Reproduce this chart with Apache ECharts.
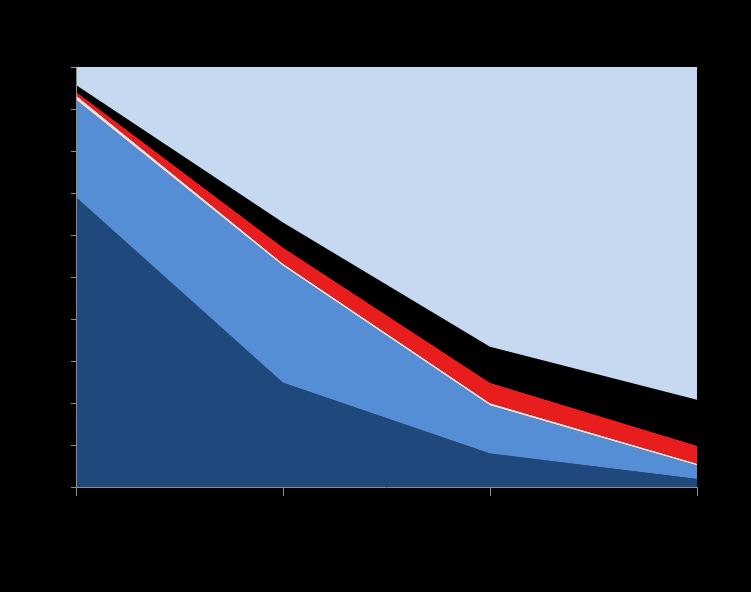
<!DOCTYPE html>
<html>
<head>
<meta charset="utf-8">
<script src="https://cdn.jsdelivr.net/npm/echarts@6/dist/echarts.min.js"></script>
<style>html,body{margin:0;padding:0;background:#000;}#c{width:751px;height:592px;}</style>
</head>
<body>
<div id="c"></div>
<script>
const categories = ['2015', '2020', '2025', '2030'];
const yTicks = [0, 10, 20, 30, 40, 50, 60, 70, 80, 90, 100];
const seriesNames = ['A', 'B', 'C', 'D', 'E', 'F'];
const seriesA = [69.0, 24.8, 8.0, 1.9];
const seriesB = [23.2, 27.8, 11.4, 3.2];
const seriesC = [1.1, 0.6, 0.6, 0.5];
const seriesD = [0.8, 3.8, 4.8, 4.2];
const seriesE = [1.6, 6.0, 8.6, 11.0];
const seriesF = [4.3, 37.0, 66.6, 79.2];
const colors = ['#1f497d', '#558ed5', '#f2dcdb', '#e81e1e', '#000000', '#c6d9f1'];
const values = [seriesA, seriesB, seriesC, seriesD, seriesE, seriesF];

const chart = echarts.init(document.getElementById('c'));
chart.setOption({
  backgroundColor: '#000',
  animation: false,
  grid: { left: 76, right: 54, top: 67, bottom: 105 },
  xAxis: {
    type: 'category', data: categories, boundaryGap: false,
    axisLine: { lineStyle: { color: '#8c8c8c', width: 1 } },
    axisTick: { show: true, length: 9, lineStyle: { color: '#8c8c8c' } },
    axisLabel: { color: '#000', fontFamily: 'Liberation Sans', fontSize: 12 },
    splitLine: { show: false }, z: 10
  },
  yAxis: {
    type: 'value', min: 0, max: 100, interval: 10,
    axisLine: { show: true, lineStyle: { color: '#8c8c8c', width: 1 } },
    axisTick: { show: true, length: 5, lineStyle: { color: '#8c8c8c' } },
    axisLabel: { color: '#000', fontFamily: 'Liberation Sans', fontSize: 12, formatter: v => yTicks.includes(v) ? v + '%' : '' },
    splitLine: { show: false }, z: 10
  },
  series: values.map((d, i) => ({
    name: seriesNames[i], type: 'line', stack: 'total', data: d,
    symbol: 'none', lineStyle: { width: 0 },
    areaStyle: { color: colors[i], opacity: 1 },
    itemStyle: { color: colors[i] }
  }))
});
</script>
</body>
</html>
